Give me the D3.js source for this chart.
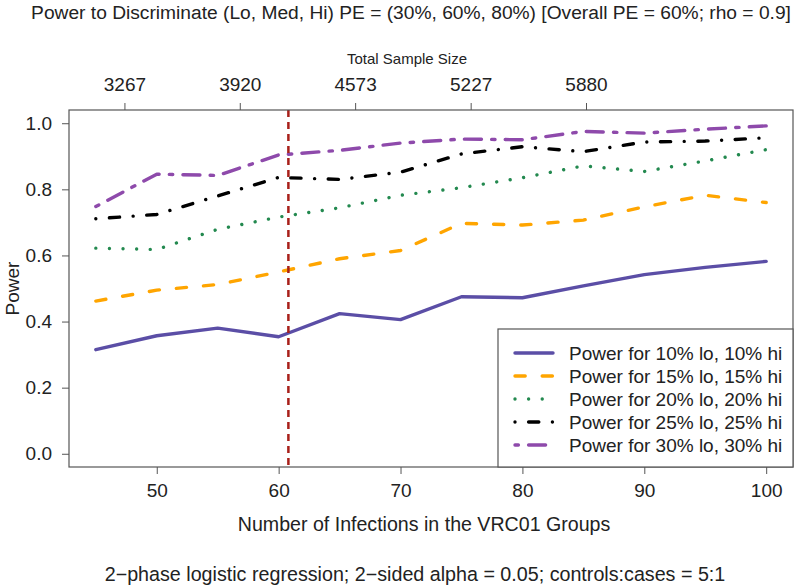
<!DOCTYPE html>
<html>
<head>
<meta charset="utf-8">
<script src="https://cdn.jsdelivr.net/npm/d3@7"></script>
<style>
  body { margin: 0; background: #fff; }
  text { font-family: "Liberation Sans", Arial, sans-serif; fill: #222; }
</style>
</head>
<body>
<svg width="800" height="586"></svg>
<script>
// data
var infections = [45, 50, 55, 60, 65, 70, 75, 80, 85, 90, 95, 100];
var power10 = [0.315, 0.357, 0.380, 0.354, 0.424, 0.406, 0.475, 0.472, 0.508, 0.542, 0.564, 0.582];
var power15 = [0.462, 0.495, 0.512, 0.550, 0.590, 0.615, 0.697, 0.692, 0.707, 0.747, 0.782, 0.760];
var power20 = [0.622, 0.618, 0.679, 0.716, 0.744, 0.782, 0.805, 0.835, 0.871, 0.854, 0.886, 0.920];
var power25 = [0.711, 0.724, 0.780, 0.836, 0.830, 0.852, 0.907, 0.929, 0.914, 0.943, 0.946, 0.956];
var power30 = [0.748, 0.846, 0.842, 0.904, 0.918, 0.940, 0.952, 0.950, 0.975, 0.970, 0.982, 0.992];
var legendLabels = ['Power for 10% lo, 10% hi', 'Power for 15% lo, 15% hi', 'Power for 20% lo, 20% hi',
                    'Power for 25% lo, 25% hi', 'Power for 30% lo, 30% hi'];
var sampleTicks = [3267, 3920, 4573, 5227, 5880];
var xTicks = [50, 60, 70, 80, 90, 100];
var yTicks = [0, 0.2, 0.4, 0.6, 0.8, 1.0];
var refLine = 60.8;          // vertical marker
var samplePerInfection = 69; // top axis conversion

var svg = d3.select('svg');
var pLeft = 69, pRight = 793, pTop = 110, pBottom = 467;

var x = d3.scaleLinear().domain([42.8, 102.2]).range([pLeft, pRight]);
var y = d3.scaleLinear().domain([-0.04, 1.04]).range([pBottom, pTop]);

// series styles, R-ish lty patterns scaled by lwd
var lw = 3.4;
function dash(pattern){
    // pattern in R units: on, off, on, off ... ; round caps so trim the on parts
    if (!pattern) return null;
    return pattern.map(function(v, i){
        var len = v * lw;
        return i % 2 === 0 ? Math.max(len - lw, 0.01) : len + lw;
    }).join(',');
}
var series = [
    {vals: power10, color: '#5b4ea6', pat: null},
    {vals: power15, color: '#ffa500', pat: [4, 4]},
    {vals: power20, color: '#23894f', pat: [1, 3]},
    {vals: power25, color: '#000000', pat: [1, 3, 4, 3]},
    {vals: power30, color: '#8e4aab', pat: [2, 2, 6, 2]}
];

var line = d3.line()
    .x(function(d){ return x(d[0]); })
    .y(function(d){ return y(d[1]); });

// lines
svg.append('g').selectAll('path')
    .data(series)
    .enter().append('path')
        .attr('d', function(s){ return line(infections.map(function(v, i){ return [v, s.vals[i]]; })); })
        .attr('fill', 'none')
        .attr('stroke', function(s){ return s.color; })
        .attr('stroke-width', lw)
        .attr('stroke-linecap', 'round')
        .attr('stroke-linejoin', 'round')
        .attr('stroke-dasharray', function(s){ return dash(s.pat); });

// reference line
svg.append('line')
    .attr('x1', x(refLine)).attr('x2', x(refLine))
    .attr('y1', pTop).attr('y2', pBottom)
    .attr('stroke', '#a8201a')
    .attr('stroke-width', 2.5)
    .attr('stroke-dasharray', '7,5');

// axes
var bottomAxis = svg.append('g')
    .attr('transform', 'translate(0,' + pBottom + ')')
    .call(d3.axisBottom(x).tickValues(xTicks).tickSize(7).tickPadding(10).tickFormat(d3.format('d')));
var leftAxis = svg.append('g')
    .attr('transform', 'translate(' + pLeft + ',0)')
    .call(d3.axisLeft(y).tickValues(yTicks).tickSize(7).tickPadding(10).tickFormat(d3.format('.1f')));
var sampleScale = d3.scaleLinear()
    .domain(x.domain().map(function(v){ return v * samplePerInfection; }))
    .range(x.range());
var topAxis = svg.append('g')
    .attr('transform', 'translate(0,' + pTop + ')')
    .call(d3.axisTop(sampleScale).tickValues(sampleTicks).tickSize(7).tickPadding(12).tickFormat(d3.format('d')));

[bottomAxis, leftAxis, topAxis].forEach(function(g){
    g.select('.domain').remove();
    g.selectAll('line').attr('stroke', '#555');
    g.selectAll('text').style('font-size', '19px').attr('fill', '#222');
});

// plot box
svg.append('rect')
    .attr('x', pLeft).attr('y', pTop)
    .attr('width', pRight - pLeft).attr('height', pBottom - pTop)
    .attr('fill', 'none').attr('stroke', '#555').attr('stroke-width', 1.2);

// titles
svg.append('text').attr('x', 411).attr('y', 19).attr('text-anchor', 'middle')
    .style('font-size', '19.2px')
    .text('Power to Discriminate (Lo, Med, Hi) PE = (30%, 60%, 80%) [Overall PE = 60%; rho = 0.9]');
svg.append('text').attr('x', 407).attr('y', 64).attr('text-anchor', 'middle')
    .style('font-size', '15px').text('Total Sample Size');
svg.append('text').attr('x', 424).attr('y', 531).attr('text-anchor', 'middle')
    .style('font-size', '19.6px').text('Number of Infections in the VRC01 Groups');
svg.append('text').attr('x', 415).attr('y', 581).attr('text-anchor', 'middle')
    .style('font-size', '19.7px').text('2\u2212phase logistic regression; 2\u2212sided alpha = 0.05; controls:cases = 5:1');
svg.append('text').attr('transform', 'translate(19,' + (pTop + pBottom) / 2 + ') rotate(-90)')
    .attr('text-anchor', 'middle').style('font-size', '19px').text('Power');

// legend
var legend = svg.append('g');
legend.append('rect')
    .attr('x', 498).attr('y', 329).attr('width', pRight - 498).attr('height', pBottom - 329)
    .attr('fill', '#fff').attr('stroke', '#555').attr('stroke-width', 1.2);
var rows = legend.selectAll('g.row')
    .data(series)
    .enter().append('g')
        .attr('transform', function(d, i){ return 'translate(0,' + (353 + i * 23) + ')'; });
rows.append('line')
    .attr('x1', 515).attr('x2', 553)
    .attr('stroke', function(s){ return s.color; })
    .attr('stroke-width', lw)
    .attr('stroke-linecap', 'round')
    .attr('stroke-dasharray', function(s){ return dash(s.pat); });
rows.append('text')
    .attr('x', 569).attr('y', 7)
    .style('font-size', '19px')
    .text(function(d, i){ return legendLabels[i]; });
</script>
</body>
</html>
